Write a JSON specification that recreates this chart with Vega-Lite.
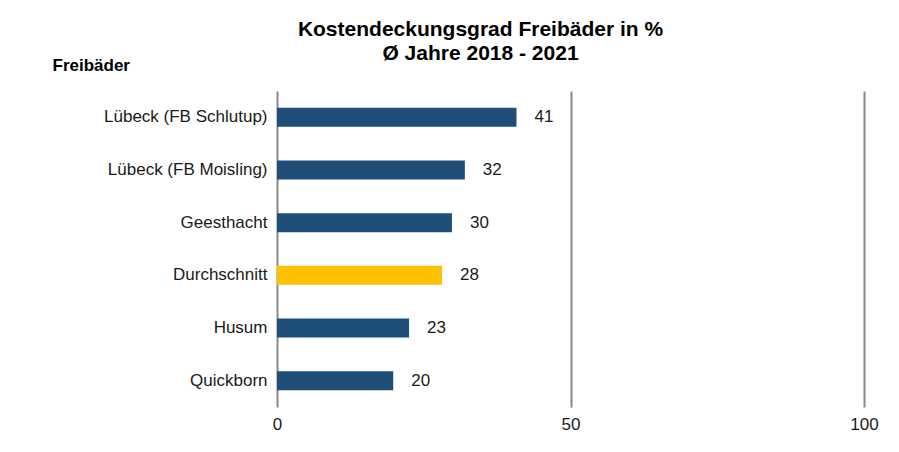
{
  "$schema": "https://vega.github.io/schema/vega-lite/v6.json",
  "width": 587,
  "height": 316,
  "autosize": {"type": "none"},
  "padding": {"left": 277, "top": 91, "right": 35, "bottom": 45},
  "background": "white",
  "title": {
    "text": ["Kostendeckungsgrad Freibäder in %", "Ø Jahre 2018 - 2021"],
    "font": "Liberation Sans",
    "fontSize": 21,
    "fontWeight": "bold",
    "color": "#000000",
    "anchor": "middle",
    "frame": "group",
    "dx": -90,
    "offset": -8,
    "lineHeight": 24
  },
  "data": {
    "values": [
      {"bad": "Lübeck (FB Schlutup)", "wert": 40.8, "typ": "Bad"},
      {"bad": "Lübeck (FB Moisling)", "wert": 32.0, "typ": "Bad"},
      {"bad": "Geesthacht", "wert": 29.8, "typ": "Bad"},
      {"bad": "Durchschnitt", "wert": 28.1, "typ": "Durchschnitt"},
      {"bad": "Husum", "wert": 22.5, "typ": "Bad"},
      {"bad": "Quickborn", "wert": 19.8, "typ": "Bad"}
    ]
  },
  "encoding": {
    "y": {
      "field": "bad",
      "type": "nominal",
      "sort": null,
      "scale": {"paddingInner": 0.64, "paddingOuter": 0.32},
      "axis": {
        "title": "Freibäder",
        "titleFont": "Liberation Sans",
        "titleFontSize": 17,
        "titleFontWeight": "bold",
        "titleColor": "#000000",
        "titleAngle": 0,
        "titleAlign": "left",
        "titleBaseline": "alphabetic",
        "titleX": -225,
        "titleY": -21,
        "labelFont": "Liberation Sans",
        "labelFontSize": 17,
        "labelColor": "#1a1a1a",
        "labelPadding": 10,
        "labelLimit": 300,
        "ticks": false,
        "domain": false,
        "grid": false
      }
    },
    "x": {
      "field": "wert",
      "type": "quantitative",
      "scale": {"domain": [0, 100]},
      "axis": {
        "title": null,
        "values": [0, 50, 100],
        "grid": true,
        "gridColor": "#888888",
        "gridWidth": 2,
        "domain": false,
        "ticks": false,
        "labelFlush": false,
        "labelFont": "Liberation Sans",
        "labelFontSize": 17,
        "labelColor": "#1a1a1a",
        "labelPadding": 9
      }
    }
  },
  "layer": [
    {
      "mark": {"type": "bar"},
      "encoding": {
        "color": {
          "field": "typ",
          "type": "nominal",
          "scale": {"domain": ["Bad", "Durchschnitt"], "range": ["#1f4e79", "#ffc000"]},
          "legend": null
        }
      }
    },
    {
      "mark": {"type": "text", "align": "left", "baseline": "middle", "dx": 18, "font": "Liberation Sans", "fontSize": 17, "color": "#1a1a1a"},
      "encoding": {
        "text": {"field": "wert", "type": "quantitative", "format": ".0f"}
      }
    }
  ],
  "config": {"view": {"stroke": null}}
}
